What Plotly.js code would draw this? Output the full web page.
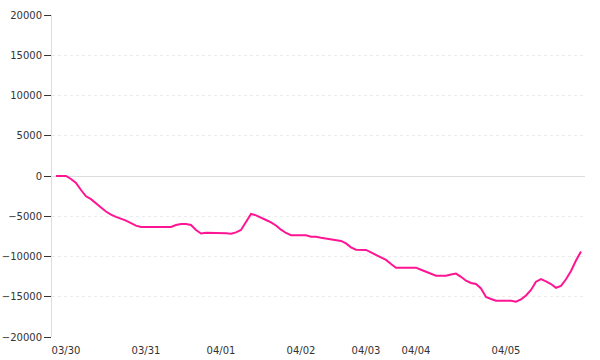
<!DOCTYPE html>
<html>
<head>
<meta charset="utf-8">
<script src="https://cdn.plot.ly/plotly-3.0.1.min.js"></script>
<style>html,body{margin:0;padding:0;background:#fff}#chart{width:600px;height:360px}</style>
</head>
<body>
<div id="chart"></div>
<script>
// sample index (uniform time steps)
const sampleIndex = Array.from({length: 106}, (_, i) => i);
const values = [
  0, 0, 0, -370, -870, -1740, -2520, -2880, -3350, -3910,
  -4410, -4800, -5070, -5290, -5550, -5850, -6160, -6340, -6340, -6340,
  -6420, -6420, -6420, -6340, -6090, -5960, -5960, -6090, -6710, -7140,
  -7040, -7040, -7040, -7040, -7120, -7170, -7000, -6710, -5710, -4720,
  -4890, -5220, -5470, -5750, -6150, -6670, -7080, -7350, -7370, -7370,
  -7370, -7540, -7540, -7660, -7760, -7890, -8040, -8070, -8380, -8860,
  -9150, -9150, -9190, -9500, -9790, -10090, -10430, -10930, -11390, -11390,
  -11390, -11390, -11390, -11640, -11890, -12150, -12380, -12380, -12380, -12240,
  -12120, -12520, -13010, -13290, -13420, -13970, -15030, -15280, -15490, -15490,
  -15490, -15490, -15610, -15320, -14840, -14160, -13130, -12800, -13080, -13420,
  -13890, -13660, -12830, -11800, -10500, -9380
];
const dateTickIndex = [2, 18, 33, 49, 62, 72, 90];
const dateTickLabels = ["03/30", "03/31", "04/01", "04/02", "04/03", "04/04", "04/05"];
const yTicks = [-20000, -15000, -10000, -5000, 0, 5000, 10000, 15000, 20000];

const trace = {
  x: sampleIndex,
  y: values,
  type: 'scatter',
  mode: 'lines',
  line: {color: '#ff1493', width: 2},
  hoverinfo: 'skip'
};

const layout = {
  width: 600, height: 360,
  margin: {l: 52, r: 15, t: 15, b: 23},
  paper_bgcolor: '#fff', plot_bgcolor: '#fff',
  showlegend: false,
  font: {family: 'DejaVu Sans, Verdana, sans-serif', size: 10, color: '#333'},
  xaxis: {
    range: [-0.8, 105.8],
    tickmode: 'array', tickvals: dateTickIndex, ticktext: dateTickLabels,
    showgrid: false, zeroline: false, showline: false,
    ticks: 'outside', ticklen: 4, tickcolor: 'rgba(0,0,0,0)',
    tickfont: {size: 10, color: '#333'}
  },
  yaxis: {
    range: [-20000, 20000],
    tickmode: 'array', tickvals: yTicks, tickformat: 'd',
    showgrid: true, gridcolor: '#ebebeb', griddash: 'dot', gridwidth: 1,
    zeroline: true, zerolinecolor: '#dddddd', zerolinewidth: 1,
    showline: true, linecolor: '#dddddd', linewidth: 1,
    ticks: 'outside', ticklen: 7, tickcolor: '#333', tickwidth: 1,
    tickfont: {size: 10, color: '#333'}
  }
};

Plotly.newPlot('chart', [trace], layout, {displayModeBar: false, staticPlot: true});
</script>
</body>
</html>
